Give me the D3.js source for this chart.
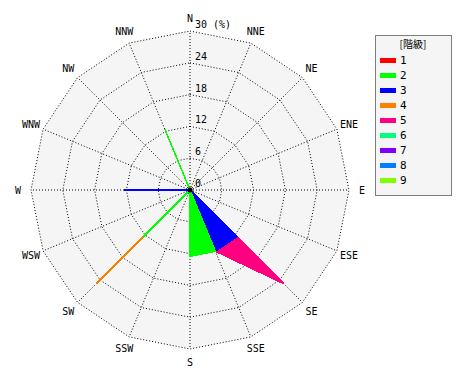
<!DOCTYPE html>
<html><head><meta charset="utf-8">
<script src="https://cdn.jsdelivr.net/npm/d3@7"></script>
<style>body{margin:0;background:#fff}</style>
</head><body><svg id="c" width="470" height="380"></svg>
<script>
const directions = ["N","NNE","NE","ENE","E","ESE","SE","SSE","S","SSW","SW","WSW","W","WNW","NW","NNW"];
const classes = ["1","2","3","4","5","6","7","8","9"];
const colors = ["#ff0000","#00ff00","#0000ff","#ff8000","#ff0080","#00ff80","#8000ff","#0080ff","#80ff00"];
const ringTicks = [0,6,12,18,24,30];
// frequency (%) per class, per direction (N..NNW)
const class1 = [0,0,0,0,0,0,0,0,0,0,0,0,0,0,0,0];
const class2 = [0,0,0,0,0,0,0,12.5,12.5,0,12.5,0,0,0,0,12.5];
const class3 = [0,0,0,0,0,0,12.5,0,0,0,0,0,12.5,0,0,0];
const class4 = [0,0,0,0,0,0,0,0,0,0,12.5,0,0,0,0,0];
const class5 = [0,0,0,0,0,0,12.5,0,0,0,0,0,0,0,0,0];
const class6 = [0,0,0,0,0,0,0,0,0,0,0,0,0,0,0,0];
const class7 = [0,0,0,0,0,0,0,0,0,0,0,0,0,0,0,0];
const class8 = [0,0,0,0,0,0,0,0,0,0,0,0,0,0,0,0];
const class9 = [0,0,0,0,0,0,0,0,0,0,0,0,0,0,0,0];
const series = [class1,class2,class3,class4,class5,class6,class7,class8,class9];

const svg = d3.select("#c");
const cx = 190, cy = 190, R = 159;
const r = d3.scaleLinear().domain([0,30]).range([0,R]);
const ang = d3.scalePoint().domain(directions.concat(["_"])).range([0, 2*Math.PI]);
const pt = (d, v) => { const a = ang(d); return [cx + r(v)*Math.sin(a), cy - r(v)*Math.cos(a)]; };
const font = "'DejaVu Sans Mono', monospace";

// background
svg.append("polygon").attr("points", directions.map(d => pt(d,30).join(",")).join(" "))
  .attr("fill","#f5f5f5");

// grid rings
ringTicks.slice(1).forEach(t => {
  svg.append("polygon").attr("points", directions.map(d => pt(d,t).join(",")).join(" "))
    .attr("fill","none").attr("stroke","#000").attr("stroke-width",1).attr("stroke-dasharray","1,2");
});
directions.forEach(d => {
  const p = pt(d,30);
  svg.append("line").attr("x1",cx).attr("y1",cy).attr("x2",p[0]).attr("y2",p[1])
    .attr("stroke","#000").attr("stroke-width",1).attr("stroke-dasharray","1,2");
});

// stacked cumulative polygons (draw largest first)
const cum = [];
let acc = directions.map(() => 0);
series.forEach(s => { acc = acc.map((v,i) => v + s[i]); cum.push(acc.slice()); });
const g = svg.append("g");
for (let k = cum.length-1; k >= 0; k--) {
  const vals = cum[k];
  if (d3.max(vals) === 0) continue;
  g.append("polygon")
    .attr("points", directions.map((d,i) => pt(d, vals[i]).join(",")).join(" "))
    .attr("fill", colors[k]).attr("stroke", colors[k]).attr("stroke-width", 1.5)
    .attr("stroke-linejoin","miter").attr("shape-rendering","crispEdges");
}
svg.append("circle").attr("cx",cx).attr("cy",cy).attr("r",2.5).attr("fill","#000");

// ring labels
ringTicks.forEach(t => {
  svg.append("text").attr("x", cx + 5).attr("y", cy - r(t) - 3)
    .attr("font-family", font).attr("font-size", 10).attr("fill","#000")
    .text(t === 30 ? "30 (%)" : t);
});

// direction labels
directions.forEach(d => {
  const a = ang(d), rl = R + 13;
  svg.append("text").attr("x", cx + rl*Math.sin(a)).attr("y", cy - rl*Math.cos(a))
    .attr("text-anchor","middle").attr("dominant-baseline","central")
    .attr("font-family", font).attr("font-size", 10).attr("fill","#000").text(d);
});

// legend
const lg = svg.append("g");
lg.append("rect").attr("x",375.5).attr("y",35.5).attr("width",76).attr("height",160)
  .attr("fill","#f5f5f5").attr("stroke","#000").attr("stroke-dasharray","1,1");
lg.append("text").attr("x",413).attr("y",48).attr("text-anchor","middle")
  .attr("font-family","'Noto Sans CJK JP', sans-serif").attr("font-size",10).text("[階級]");
const ly = d3.scaleBand().domain(classes).range([53, 188]);
classes.forEach((c,i) => {
  const y = ly(c) + ly.bandwidth()/2;
  lg.append("rect").attr("x",380).attr("y",y-2.5).attr("width",16).attr("height",5).attr("fill",colors[i]);
  lg.append("text").attr("x",400).attr("y",y).attr("dominant-baseline","central")
    .attr("font-family",font).attr("font-size",11).text(c);
});
</script></body></html>
